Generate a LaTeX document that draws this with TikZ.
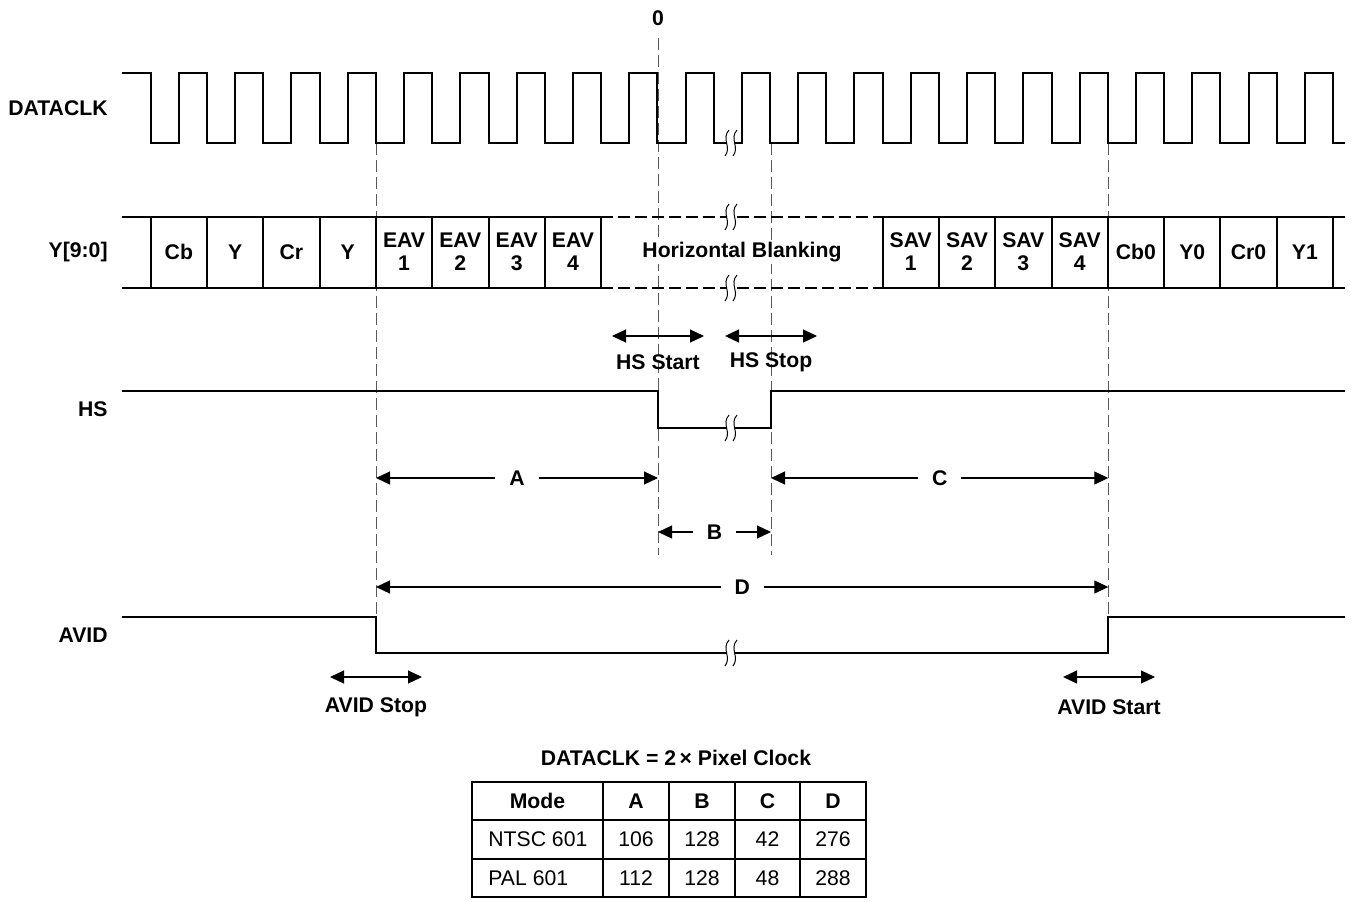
\documentclass[tikz,border=0pt]{standalone}
\usepackage{fontspec}
\setmainfont{Liberation Sans}
\usetikzlibrary{arrows.meta}

\tikzset{
	sig/.style={line width=1pt},
	guide/.style={line width=0.5pt, black!65, dash pattern=on 6pt off 2.5pt},
	dim/.style={line width=0.6pt, {Triangle[length=7pt,width=6.5pt]}-{Triangle[length=7pt,width=6.5pt]}},
	lbl/.style={font=\fontsize{10.6}{11.5}\selectfont\bfseries, inner sep=1pt},
	cell/.style={font=\fontsize{10.6}{11.5}\selectfont, inner sep=1pt},
	gaplbl/.style={lbl, fill=white, inner xsep=7pt},
	brk/.pic={
		\fill[white] (-4,-4) rectangle (3.5,4);
		\draw[line width=0.5pt] (-2,-13) .. controls (-10,-4) and (1,4) .. (-6,13);
		\draw[line width=0.5pt] (6,-13) .. controls (-2,-4) and (9,4) .. (2,13);
	}
}

\begin{document}
\begin{tikzpicture}[x=0.5pt, y=-0.5pt]
	\useasboundingbox (0,0) rectangle (1351,901);

	% Signal names
	\node[lbl, anchor=east] (nclk) at (110,108) {DATACLK};
	\node[lbl, anchor=east] (nbus) at (110,252) {Y[9:0]};
	\node[lbl, anchor=east] (nhs) at (110,409) {HS};
	\node[lbl, anchor=east] (navid) at (110,635) {AVID};
	\node[lbl] (zero) at (658,18) {0};

	% Guide lines
	\coordinate (g1t) at (376,143);    \coordinate (g1b) at (376,653);
	\coordinate (g2t) at (658,38);     \coordinate (g2b) at (658,555);
	\coordinate (g3t) at (771,143);    \coordinate (g3b) at (771,555);
	\coordinate (g4t) at (1108.3,143); \coordinate (g4b) at (1108.3,617);
	\draw[guide] (g1t) -- (g1b);
	\draw[guide] (g2t) -- (g2b);
	\draw[guide] (g3t) -- (g3b);
	\draw[guide] (g4t) -- (g4b);

	% DATACLK
	\draw[sig] (122,73) -- (150.7,73)
		\foreach \k in {0,...,20} { -- ++(0,70) -- ++(28.15,0) -- ++(0,-70) -- ++(28.15,0) }
		-- ++(0,70) -- (1345,143);
	\pic at (731,143) {brk};

	% Y[9:0] bus
	\draw[sig] (122,217) -- (601.3,217);
	\draw[sig] (122,288) -- (601.3,288);
	\draw[sig, dash pattern=on 6pt off 2.5pt] (601.3,217) -- (883,217);
	\draw[sig, dash pattern=on 6pt off 2.5pt] (601.3,288) -- (883,288);
	\draw[sig] (883,217) -- (1345,217);
	\draw[sig] (883,288) -- (1345,288);
	\foreach \k in {0,...,8} \draw[sig] ({150.7+56.3*\k},217) -- ({150.7+56.3*\k},288);
	\foreach \k in {13,...,21} \draw[sig] ({150.7+56.3*\k},217) -- ({150.7+56.3*\k},288);
	\pic at (731,217) {brk};
	\pic at (731,288) {brk};

	\foreach \k/\t in {0/Cb, 1/Y, 2/Cr, 3/Y, 17/Cb0, 18/Y0, 19/Cr0, 20/Y1}
		\node[lbl] (d\k) at ({178.85+56.3*\k},252) {\t};
	\foreach \n in {1,...,4}
		\node[lbl, align=center] (eav\n) at ({178.85+56.3*(\n+3)},252) {EAV\\\n};
	\foreach \n in {1,...,4}
		\node[lbl, align=center] (sav\n) at ({178.85+56.3*(\n+12)},252) {SAV\\\n};
	\node[lbl, fill=white] (hblank) at (742,252) {Horizontal Blanking};

	% HS
	\draw[sig] (122,391) -- (658,391) -- (658,428) -- (771,428) -- (771,391) -- (1345,391);
	\pic at (731,428) {brk};

	\coordinate (hs1a) at (612,336); \coordinate (hs1b) at (704,336);
	\coordinate (hs2a) at (725,336); \coordinate (hs2b) at (817,336);
	\draw[dim] (hs1a) -- (hs1b);
	\draw[dim] (hs2a) -- (hs2b);
	\node[lbl] (hsstart) at (658,362) {HS Start};
	\node[lbl] (hsstop) at (771,362) {HS Stop};

	% Intervals
	\coordinate (a1) at (376,478);    \coordinate (a2) at (658,478);
	\coordinate (c1) at (771,478);    \coordinate (c2) at (1108.3,478);
	\coordinate (b1) at (658,532);    \coordinate (b2) at (771,532);
	\coordinate (dd1) at (376,587);   \coordinate (dd2) at (1108.3,587);
	\draw[dim] (a1) -- node[gaplbl] (la) {A} (a2);
	\draw[dim] (c1) -- node[gaplbl] (lc) {C} (c2);
	\draw[dim] (b1) -- node[gaplbl] (lb) {B} (b2);
	\draw[dim] (dd1) -- node[gaplbl] (ld) {D} (dd2);

	% AVID
	\draw[sig] (122,617) -- (376,617) -- (376,653) -- (1108.3,653) -- (1108.3,617) -- (1345,617);
	\pic at (731,653) {brk};

	\coordinate (av1a) at (330,677);  \coordinate (av1b) at (422,677);
	\coordinate (av2a) at (1063,677); \coordinate (av2b) at (1155,677);
	\draw[dim] (av1a) -- (av1b);
	\draw[dim] (av2a) -- (av2b);
	\node[lbl] (avstop) at (376,707) {AVID Stop};
	\node[lbl] (avstart) at (1109,707) {AVID Start};

	% Table
	\node[lbl] (ttl) at (676,758) {DATACLK = 2\,× Pixel Clock};
	\draw[sig] (472,782) rectangle (866,897);
	\draw[sig] (472,820) -- (866,820);
	\draw[sig] (472,859) -- (866,859);
	\foreach \x in {603,669,735,800} \draw[sig] (\x,782) -- (\x,897);

	\foreach \c/\x in {Mode/537.5, A/636, B/702, C/767.5, D/833}
		\node[lbl] (h\c) at (\x,801) {\c};
	\node[cell, anchor=west] (r1) at (486,839.5) {NTSC 601};
	\node[cell, anchor=west] (r2) at (486,878) {PAL 601};
	\foreach \v/\x [count=\i] in {106/636, 128/702, 42/767.5, 276/833}
		\node[cell] (r1c\i) at (\x,839.5) {\v};
	\foreach \v/\x [count=\i] in {112/636, 128/702, 48/767.5, 288/833}
		\node[cell] (r2c\i) at (\x,878) {\v};
\end{tikzpicture}
\end{document}
